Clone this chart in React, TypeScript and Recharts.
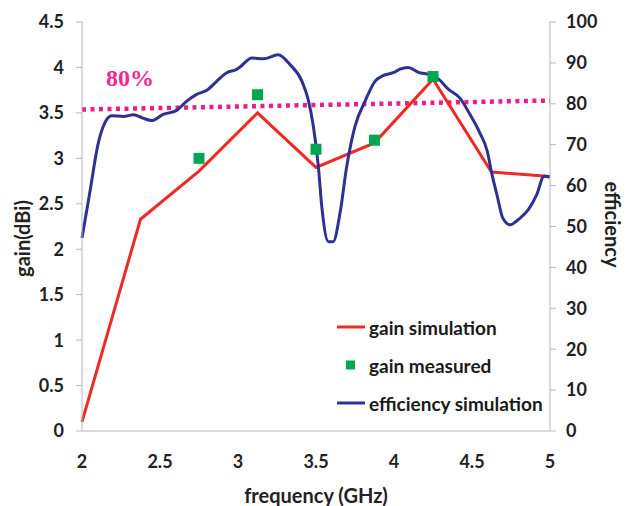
import { ComposedChart, Line, Scatter, XAxis, YAxis, Legend } from "recharts"

// gain simulation (dBi)
const simFreq = [2, 2.375, 2.75, 3.125, 3.5, 3.875, 4.25, 4.625, 5]
const simGain = [0.1, 2.33, 2.86, 3.5, 2.9, 3.17, 3.87, 2.85, 2.8]

// gain measured (dBi)
const measFreq = [2.75, 3.125, 3.5, 3.875, 4.25]
const measGain = [3.0, 3.7, 3.1, 3.2, 3.9]

// efficiency simulation (%)
const effFreq = [
  2.0, 2.05, 2.105, 2.147, 2.19, 2.265, 2.33, 2.39, 2.447, 2.52, 2.607, 2.67, 2.735, 2.8, 2.863,
  2.928, 2.99, 3.013, 3.088, 3.163, 3.258, 3.333, 3.41, 3.45, 3.483, 3.515, 3.537, 3.58, 3.61,
  3.654, 3.697, 3.75, 3.814, 3.878, 3.93, 3.996, 4.038, 4.09, 4.156, 4.23, 4.284, 4.35, 4.423,
  4.487, 4.55, 4.598, 4.626, 4.662, 4.697, 4.744, 4.797, 4.861, 4.915, 4.962, 5.0,
]
const effValue = [
  47.2, 58.3, 70.5, 75.4, 77.1, 76.9, 77.3, 76.5, 75.9, 77.4, 78.4, 80.6, 82.3, 83.3, 85.5,
  87.6, 88.4, 89.0, 91.2, 91.0, 92.0, 89.6, 85.5, 81.0, 74.5, 64.7, 54.9, 46.3, 46.3,
  53.3, 64.7, 74.5, 80.6, 85.5, 86.9, 87.6, 88.5, 88.9, 87.7, 87.1, 86.1, 83.5, 81.4,
  77.4, 72.9, 68.4, 63.1, 57.4, 52.1, 50.4, 51.7, 54.1, 57.8, 62.3, 62.1,
]

// 80% reference line
const refFreq = [2, 5]
const refEff = [78.6, 80.8]

const xTicks = [2, 2.5, 3, 3.5, 4, 4.5, 5]
const gainTicks = [0, 0.5, 1, 1.5, 2, 2.5, 3, 3.5, 4, 4.5]
const effTicks = [0, 10, 20, 30, 40, 50, 60, 70, 80, 90, 100]

const simData = simFreq.map((f, i) => ({ f, gain: simGain[i] }))
const measData = measFreq.map((f, i) => ({ f, gain: measGain[i] }))
const effData = effFreq.map((f, i) => ({ f, eff: effValue[i] }))
const refData = refFreq.map((f, i) => ({ f, eff: refEff[i] }))

const font = "Lato, 'Open Sans', sans-serif"
const tickStyle = { fontSize: 18, fontWeight: 700, fill: "#222", fontFamily: font }
const titleStyle = { fontSize: 20, fontWeight: 700, fill: "#222", fontFamily: font }
const axisColor = "#b4b8bc"

const Square = (props: any) => {
  const { cx, cy } = props
  return <rect x={cx - 5.5} y={cy - 5.5} width={11} height={11} fill="#00a651" />
}

const legendItems = [
  { name: "gain simulation", kind: "line", color: "#ee2a24" },
  { name: "gain measured", kind: "square", color: "#00a651" },
  { name: "efficiency simulation", kind: "line", color: "#2e3192" },
]

const renderLegend = () => (
  <div style={{ fontFamily: font, fontSize: 19, fontWeight: 700, color: "#1a1a1a" }}>
    {legendItems.map((it) => (
      <div key={it.name} style={{ display: "flex", alignItems: "center", height: 38 }}>
        <svg width={32} height={14} style={{ marginRight: 2 }}>
          {it.kind === "line" ? (
            <line x1={2} y1={7} x2={30} y2={7} stroke={it.color} strokeWidth={3} />
          ) : (
            <rect x={11} y={2.5} width={9} height={9} fill={it.color} />
          )}
        </svg>
        <span>{it.name}</span>
      </div>
    ))}
  </div>
)

export default function App() {
  return (
    <div style={{ position: "absolute", left: 0, top: 0, width: 628, height: 506, background: "#fff" }}>
      <ComposedChart width={628} height={506} margin={{ top: 22, right: 0, left: 0, bottom: 0 }}>
        <XAxis
          xAxisId="x"
          dataKey="f"
          type="number"
          domain={[2, 5]}
          ticks={xTicks}
          allowDuplicatedCategory={false}
          height={75}
          stroke={axisColor}
          tickLine={false}
          tickSize={0}
          tickMargin={24}
          tick={tickStyle}
          label={{ value: "frequency (GHz)", position: "insideBottom", offset: 3, style: titleStyle }}
        />
        <YAxis
          yAxisId="gain"
          domain={[0, 4.5]}
          ticks={gainTicks}
          width={82}
          stroke={axisColor}
          tickSize={6}
          tickMargin={12}
          tick={tickStyle}
          label={{ value: "gain(dBi)", angle: -90, position: "center", dx: -18, dy: 12, style: titleStyle }}
        />
        <YAxis
          yAxisId="eff"
          orientation="right"
          domain={[0, 100]}
          ticks={effTicks}
          width={78}
          stroke={axisColor}
          tickSize={6}
          tickMargin={10}
          tick={tickStyle}
          label={{ value: "efficiency", angle: 90, position: "center", dx: 23, dy: -2, style: titleStyle }}
        />
        <Legend
          content={renderLegend}
          layout="vertical"
          align="center"
          verticalAlign="middle"
          wrapperStyle={{ position: "absolute", left: 335, top: 308, width: 240 }}
        />
        <Line
          xAxisId="x"
          yAxisId="eff"
          data={refData}
          dataKey="eff"
          type="linear"
          stroke="#ec1c8c"
          strokeWidth={4.5}
          strokeDasharray="4 4.5"
          dot={false}
          legendType="none"
          isAnimationActive={false}
        />
        <Line
          xAxisId="x"
          yAxisId="gain"
          data={simData}
          dataKey="gain"
          type="linear"
          stroke="#ee2a24"
          strokeWidth={3}
          dot={false}
          name="gain simulation"
          isAnimationActive={false}
        />
        <Scatter
          xAxisId="x"
          yAxisId="gain"
          data={measData}
          dataKey="gain"
          shape={Square}
          name="gain measured"
          isAnimationActive={false}
        />
        <Line
          xAxisId="x"
          yAxisId="eff"
          data={effData}
          dataKey="eff"
          type="monotone"
          stroke="#2e3192"
          strokeWidth={3}
          dot={false}
          name="efficiency simulation"
          isAnimationActive={false}
        />
      </ComposedChart>
      <span
        style={{
          position: "absolute",
          left: 106,
          top: 64,
          fontFamily: "'Liberation Serif', serif",
          fontSize: 24,
          fontWeight: 700,
          color: "#ec2b8c",
          lineHeight: "28px",
        }}
      >
        80%
      </span>
    </div>
  )
}
